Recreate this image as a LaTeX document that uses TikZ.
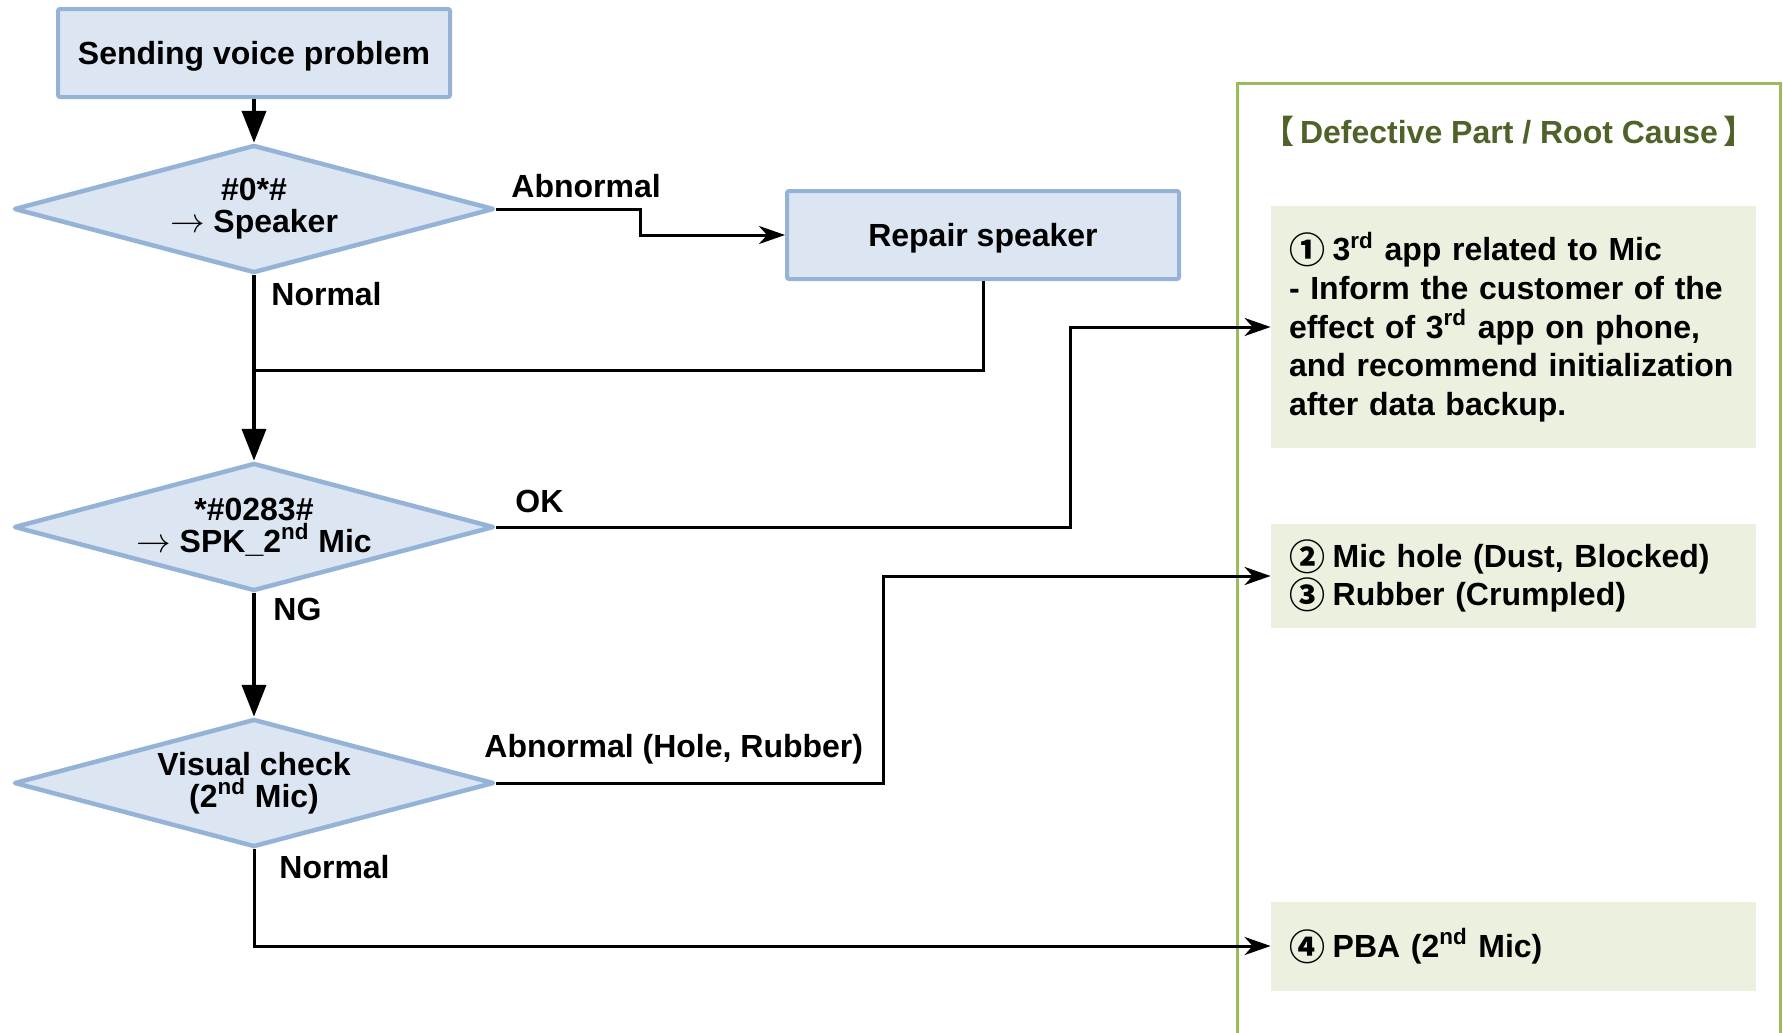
\documentclass[tikz,border=0pt]{standalone}
\usepackage{fontspec}
\setmainfont{Liberation Sans}
\newfontfamily\cjk{Noto Sans CJK SC}
\usetikzlibrary{shapes.geometric,arrows.meta,calc}

\definecolor{boxblue}{HTML}{DCE6F2}
\definecolor{edgeblue}{HTML}{95B3D7}
\definecolor{panelgreen}{HTML}{9BBB59}
\definecolor{notegreen}{HTML}{EBF1DE}
\definecolor{titlegreen}{HTML}{4F6228}

% circled numbers and lenticular brackets come from the CJK face
\newcommand{\cnum}[1]{\raisebox{-1.5pt}{\cjk\fontsize{18}{19}\selectfont #1}\hspace{-1.5pt}}

\begin{document}
\begin{tikzpicture}[x=0.5pt,y=-0.5pt,
  font=\fontsize{16}{16}\selectfont\bfseries,
  stepbox/.style={draw=edgeblue,fill=boxblue,line width=2pt,text depth=0pt,
    minimum width=196pt,minimum height=44pt,inner sep=0pt,rounded corners=1pt},
  decision/.style={diamond,draw=edgeblue,fill=boxblue,line width=2.25pt,
    line join=round,minimum width=240pt,minimum height=64pt,aspect=3.7,
    inner sep=0pt,align=center},
  note/.style={fill=notegreen,text width=224.5pt,inner xsep=9pt,
    inner ysep=0pt,align=left,font=\fontsize{16}{19.3}\selectfont\bfseries},
  trunk/.style={line width=2pt,-{Triangle[length=16pt,width=12pt]}},
  conn/.style={line width=1.5pt},
  link/.style={conn,-{Stealth[length=13pt,width=9pt,inset=4pt]}},
  lbl/.style={inner sep=0pt,anchor=base west}
]
\useasboundingbox (0,0) rectangle (1783,1033);

% right-hand panel (open at the bottom)
\draw[panelgreen,line width=1.5pt] (1237,1045) -- (1237,83) -- (1780,83) -- (1780,1045);
\node[inner sep=0pt,anchor=base,text=titlegreen] (title) at (1509,143)
  {{\cjk 【}\,Defective Part / Root Cause\,{\cjk 】}};

% flow steps
\node[stepbox] (start) at (254,53) {Sending voice problem};
\node[decision] (d1) at (254,209) {\#0*\#\\$\rightarrow$ Speaker};
\node[stepbox] (rep) at (983,235) {Repair speaker};
\node[decision] (d2) at (254,527) {*\#0283\#\\$\rightarrow$ SPK\_2\textsuperscript{nd} Mic};
\node[decision] (d3) at (254,783) {Visual check\\(2\textsuperscript{nd} Mic)};

% root causes
\node[note,minimum height=121pt] (c1) at (1513.5,327)
  {\cnum{①} 3\textsuperscript{rd} app related to Mic\\- Inform the customer of the\\effect of 3\textsuperscript{rd} app on phone,\\and recommend initialization\\after data backup.};
\node[note,minimum height=52pt] (c2) at (1513.5,576)
  {\cnum{②} Mic hole (Dust, Blocked)\\\cnum{③} Rubber (Crumpled)};
\node[note,minimum height=44.5pt] (c3) at (1513.5,946)
  {\cnum{④} PBA (2\textsuperscript{nd} Mic)};

% connectors
\coordinate (j1) at (254,370);
\coordinate (x1) at (1070,0);
\coordinate (x2) at (883,0);
\draw[trunk] (start) -- (d1);
\draw[link] (d1.east) -- ++(144,0) |- (rep.west);
\draw[conn] (rep.south) |- (j1);
\draw[trunk] (d1) -- (d2);
\draw[link] (d2.east) -| (x1 |- c1.west) -- (c1.west);
\draw[trunk] (d2) -- (d3);
\draw[link] (d3.east) -| (x2 |- c2.west) -- (c2.west);
\draw[link] (d3.south) |- (c3.west);

% branch labels
\node[lbl] (l1) at (511,197) {Abnormal};
\node[lbl] (l2) at (271,305) {Normal};
\node[lbl] (l3) at (515,512) {OK};
\node[lbl] (l4) at (273,620) {NG};
\node[lbl] (l5) at (484,757) {Abnormal (Hole, Rubber)};
\node[lbl] (l6) at (279,878) {Normal};
\end{tikzpicture}
\end{document}
